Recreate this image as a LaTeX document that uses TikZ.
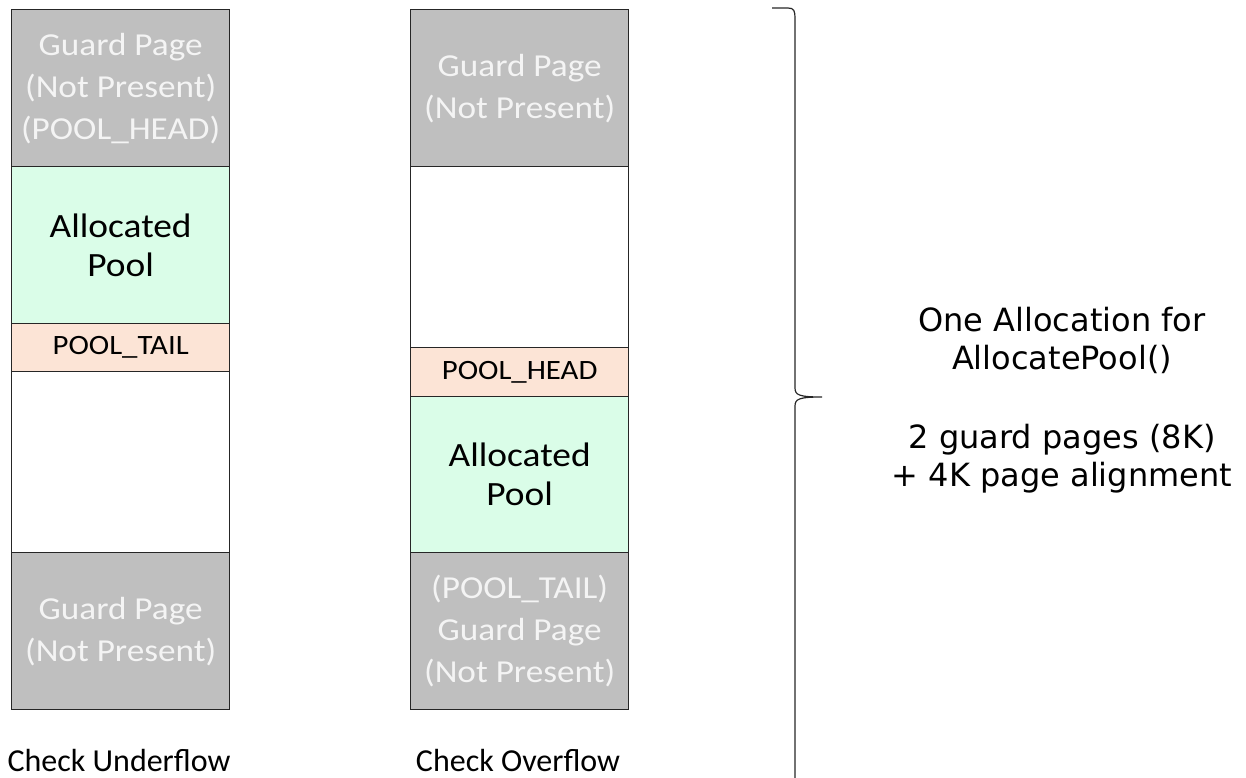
\documentclass[tikz,border=0pt]{standalone}
\usepackage{fontspec}
\setmainfont{Carlito}
\newfontfamily\blockfont[FakeStretch=1.1]{Carlito}
\newfontfamily\notefont{DejaVu Sans}
\definecolor{guardgray}{HTML}{BFBFBF}
\definecolor{poolgreen}{HTML}{DAFDE8}
\definecolor{hdrpeach}{HTML}{FCE4D6}
\definecolor{guardtext}{HTML}{F4F4F4}
\definecolor{edge}{HTML}{262626}
\begin{document}
\begin{tikzpicture}[x=1pt,y=-1pt,
  blk/.style={draw=edge, line width=1.3pt, rectangle, inner sep=0pt,
    minimum width=218pt, anchor=north west, align=center},
  guard/.style={blk, fill=guardgray, text=guardtext,
    font=\blockfont\fontsize{32}{42}\selectfont},
  pool/.style={blk, fill=poolgreen, text=black,
    font=\blockfont\fontsize{34}{39}\selectfont},
  hdr/.style={blk, fill=hdrpeach, text=black,
    font=\blockfont\fontsize{28}{30}\selectfont},
  free/.style={blk, fill=white},
  caption/.style={font=\fontsize{32}{36}\selectfont, text=black},
  note/.style={font=\notefont\fontsize{32}{37.5}\selectfont, align=center, text=black}]
\useasboundingbox (0,0) rectangle (1246,778);
\clip (0,0) rectangle (1246,778);

% Underflow layout
\node[guard, minimum height=157pt] (uGuardTop) at (11,9) {Guard Page\\(Not Present)\\(POOL\_HEAD)};
\node[pool, minimum height=157pt] (uPool) at (11,166) {Allocated\\Pool};
\node[hdr, minimum height=48pt] (uTail) at (11,323) {POOL\_TAIL};
\node[free, minimum height=181pt] (uFree) at (11,371) {};
\node[guard, minimum height=157pt] (uGuardBot) at (11,552) {Guard Page\\(Not Present)};
\node[caption] (uCap) at (119,760) {Check Underflow};

% Overflow layout
\node[guard, minimum height=157pt] (oGuardTop) at (410,9) {Guard Page\\(Not Present)};
\node[free, minimum height=181pt] (oFree) at (410,166) {};
\node[hdr, minimum height=49pt] (oHead) at (410,347) {POOL\_HEAD};
\node[pool, minimum height=156pt] (oPool) at (410,396) {Allocated\\Pool};
\node[guard, minimum height=157pt] (oGuardBot) at (410,552) {(POOL\_TAIL)\\Guard Page\\(Not Present)};
\node[caption] (oCap) at (518,760) {Check Overflow};

% Brace spanning one allocation
\draw[edge, line width=1.2pt]
  (772,8) -- (788,8) .. controls (794,8) and (795,11) .. (795,18)
  -- (795,388) .. controls (795,395) and (799,397) .. (822,397)
  .. controls (799,397) and (795,399) .. (795,406)
  -- (795,800);

\node[note] (summary) at (1062,400) {One Allocation for\\AllocatePool()\\[42pt]2 guard pages (8K)\\+ 4K page alignment};
\end{tikzpicture}
\end{document}
